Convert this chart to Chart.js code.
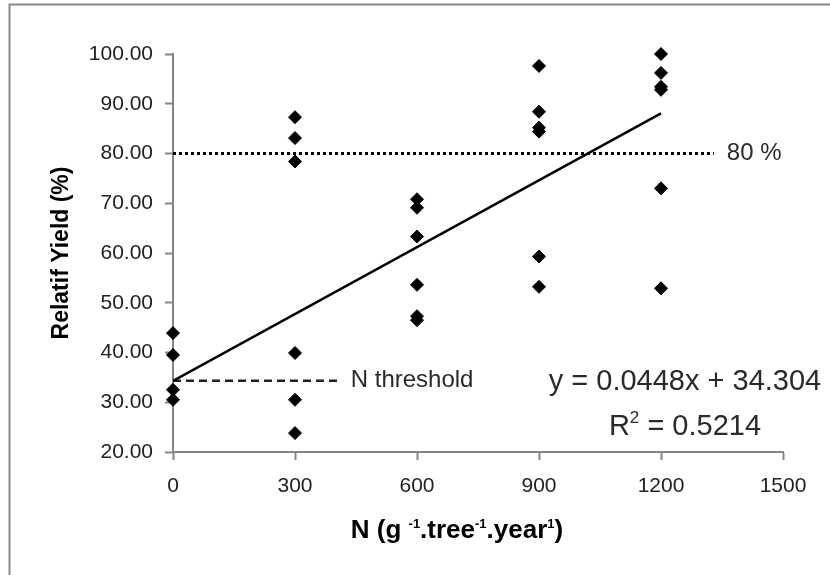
<!DOCTYPE html>
<html>
<head>
<meta charset="utf-8">
<script src="https://cdn.jsdelivr.net/npm/chart.js@4.4.1/dist/chart.umd.min.js"></script>
<style>
  html, body { margin: 0; padding: 0; background: #fff; }
  canvas { display: block; }
</style>
</head>
<body>
<canvas id="c" width="830" height="575"></canvas>
<script>
// N application rates (g / tree / year) and the relative yields measured at each rate
const nRates = [0, 300, 600, 900, 1200];
const yieldN0 = [43.9, 39.5, 32.5, 30.5];
const yieldN300 = [87.3, 83.1, 78.4, 39.9, 30.5, 23.8];
const yieldN600 = [70.8, 69.1, 63.3, 53.6, 47.3, 46.5];
const yieldN900 = [97.6, 88.4, 85.2, 84.4, 59.3, 53.2];
const yieldN1200 = [100.0, 96.2, 93.4, 92.8, 73.0, 52.9];
const yieldGroups = [yieldN0, yieldN300, yieldN600, yieldN900, yieldN1200];

// Linear fit and reference lines
const slope = 0.0448;
const intercept = 34.304;
const rSquared = 0.5214;
const trendRange = [0, 1200];
const targetYield = 80;
const targetRange = [0, 1330];
const thresholdRange = [0, 410];

// Axis ticks
const xTicks = [0, 300, 600, 900, 1200, 1500];
const yTicks = [20, 30, 40, 50, 60, 70, 80, 90, 100];

const FONT = '"Liberation Sans", Arial, sans-serif';
const AXIS_GREY = '#858585';

const observations = [];
nRates.forEach((n, i) => yieldGroups[i].forEach(v => observations.push({ x: n, y: v })));

const trendPoints = trendRange.map(x => ({ x, y: slope * x + intercept }));
const targetPoints = targetRange.map(x => ({ x, y: targetYield }));
const thresholdPoints = thresholdRange.map(x => ({ x, y: intercept }));

function drawSupText(ctx, parts, cx, baseline, mainFont, supFont, rise) {
  let total = 0;
  parts.forEach(p => { ctx.font = p.sup ? supFont : mainFont; total += ctx.measureText(p.t).width; });
  let x = cx - total / 2;
  ctx.textAlign = 'left';
  ctx.textBaseline = 'alphabetic';
  parts.forEach(p => {
    ctx.font = p.sup ? supFont : mainFont;
    ctx.fillText(p.t, x, p.sup ? baseline - rise : baseline);
    x += ctx.measureText(p.t).width;
  });
}

const annotations = {
  id: 'annotations',
  beforeDraw(chart) {
    const ctx = chart.ctx;
    ctx.save();
    ctx.fillStyle = '#fff';
    ctx.fillRect(0, 0, chart.width, chart.height);
    // outer frame (top and left edges)
    ctx.strokeStyle = '#8a8a8a';
    ctx.lineWidth = 2;
    ctx.beginPath();
    ctx.moveTo(9.5, chart.height);
    ctx.lineTo(9.5, 4.5);
    ctx.lineTo(chart.width, 4.5);
    ctx.stroke();
    ctx.restore();
  },
  afterDraw(chart) {
    const ctx = chart.ctx;
    const xs = chart.scales.x, ys = chart.scales.y;
    const area = chart.chartArea;
    ctx.save();

    // y axis title
    ctx.fillStyle = '#000';
    ctx.font = 'bold 23px ' + FONT;
    ctx.translate(68, (area.top + area.bottom) / 2);
    ctx.rotate(-Math.PI / 2);
    ctx.textAlign = 'center';
    ctx.textBaseline = 'alphabetic';
    ctx.fillText('Relatif Yield (%)', 0, 0);
    ctx.setTransform(1, 0, 0, 1, 0, 0);

    // x axis title
    drawSupText(ctx, [
      { t: 'N (g ' }, { t: '-1', sup: true },
      { t: '.tree' }, { t: '-1', sup: true },
      { t: '.year' }, { t: '1', sup: true },
      { t: ')' }
    ], 457, 538, 'bold 26px ' + FONT, 'bold 13px ' + FONT, 10);

    // reference line labels
    ctx.fillStyle = '#2a2a2a';
    ctx.font = '24px ' + FONT;
    ctx.textAlign = 'left';
    ctx.textBaseline = 'middle';
    ctx.fillText('80 %', xs.getPixelForValue(targetRange[1]) + 13, ys.getPixelForValue(targetYield));
    ctx.fillText('N threshold', xs.getPixelForValue(thresholdRange[1]) + 11, ys.getPixelForValue(intercept));

    // regression equation
    ctx.font = '29px ' + FONT;
    ctx.textAlign = 'center';
    ctx.textBaseline = 'alphabetic';
    ctx.fillText('y = ' + slope.toFixed(4) + 'x + ' + intercept.toFixed(3), 685, 390);
    drawSupText(ctx, [
      { t: 'R' }, { t: '2', sup: true }, { t: ' = ' + rSquared.toFixed(4) }
    ], 685, 435, '29px ' + FONT, '17px ' + FONT, 12);

    ctx.restore();
  }
};

new Chart(document.getElementById('c'), {
  type: 'scatter',
  data: {
    datasets: [
      {
        data: observations,
        pointStyle: 'rectRot',
        pointRadius: 6.5,
        pointBackgroundColor: '#000',
        pointBorderColor: '#000',
        pointBorderWidth: 1,
        clip: false,
        order: 0
      },
      {
        data: trendPoints,
        showLine: true,
        borderColor: '#000',
        borderWidth: 2.5,
        pointRadius: 0,
        order: 1
      },
      {
        data: targetPoints,
        showLine: true,
        borderColor: '#000',
        borderWidth: 3,
        borderDash: [3, 3],
        pointRadius: 0,
        order: 2
      },
      {
        data: thresholdPoints,
        showLine: true,
        borderColor: '#222',
        borderWidth: 2.5,
        borderDash: [8, 5],
        pointRadius: 0,
        order: 3
      }
    ]
  },
  options: {
    responsive: false,
    animation: false,
    events: [],
    layout: { padding: { left: 0, top: 54, right: 47, bottom: 0 } },
    plugins: { legend: { display: false }, tooltip: { enabled: false } },
    scales: {
      x: {
        type: 'linear',
        min: xTicks[0],
        max: xTicks[xTicks.length - 1],
        afterBuildTicks: s => { s.ticks = xTicks.map(v => ({ value: v })); },
        afterFit: s => { s.height = 123; },
        grid: { drawOnChartArea: false, drawTicks: true, tickLength: 8, tickColor: AXIS_GREY, tickWidth: 2 },
        border: { display: true, color: AXIS_GREY, width: 2 },
        ticks: { color: '#222', font: { family: FONT, size: 21 }, padding: 14, maxRotation: 0, callback: v => String(v) }
      },
      y: {
        type: 'linear',
        min: yTicks[0],
        max: yTicks[yTicks.length - 1],
        afterBuildTicks: s => { s.ticks = yTicks.map(v => ({ value: v })); },
        afterFit: s => { s.width = 173; },
        grid: { drawOnChartArea: false, drawTicks: true, tickLength: 8, tickColor: AXIS_GREY, tickWidth: 2 },
        border: { display: true, color: AXIS_GREY, width: 2 },
        ticks: { color: '#222', font: { family: FONT, size: 21 }, padding: 12, callback: v => v.toFixed(2) }
      }
    }
  },
  plugins: [annotations]
});
</script>
</body>
</html>
